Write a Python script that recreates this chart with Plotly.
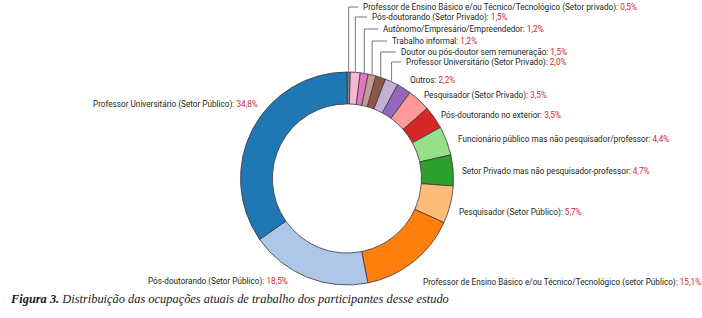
import math
import plotly.graph_objects as go

# ---------------- data (clockwise from 12 o'clock, as drawn) ----------------
categories = [
    "Professor de Ensino Básico e/ou Técnico/Tecnológico (Setor privado)",
    "Pós-doutorando (Setor Privado)",
    "Autônomo/Empresário/Empreendedor",
    "Trabalho informal",
    "Doutor ou pós-doutor sem remuneração",
    "Professor Universitário (Setor Privado)",
    "Outros",
    "Pesquisador (Setor Privado)",
    "Pós-doutorando no exterior",
    "Funcionário público mas não pesquisador/professor",
    "Setor Privado mas não pesquisador-professor",
    "Pesquisador (Setor Público)",
    "Professor de Ensino Básico e/ou Técnico/Tecnológico (setor Público)",
    "Pós-doutorando (Setor Público)",
    "Professor Universitário (Setor Público)",
]
values = [0.5, 1.5, 1.2, 1.2, 1.5, 2.0, 2.2, 3.5, 3.5, 4.4, 4.7, 5.7, 15.1, 18.5, 34.8]
colors = ["#7f7f7f", "#f7b6d2", "#e377c2", "#c49c94", "#8c564b", "#c5b0d5",
          "#9467bd", "#ff9896", "#d62728", "#98df8a", "#2ca02c", "#ffbb78",
          "#ff7f0e", "#aec7e8", "#1f77b4"]
caption_bold = "Figura 3."
caption_text = "Distribuição das ocupações atuais de trabalho dos participantes desse estudo"

# ---------------- layout (pixel positions of label text) ----------------
W, H = 702, 318
CX, CY, R = 347.0, 178.5, 106.5
HOLE = 0.70
label_x = [361, 370, 381, 390, 399, 404, 408, 422, 439, 456, 460, 457, 421, 290, 260]
label_y = [7, 17, 29, 41, 52, 62, 80, 95, 115, 139, 171, 212, 282, 281, 104]
label_side = ["left"] * 13 + ["right", "right"]
has_leader = [True] * 6 + [False] * 9

TXT = "#231f20"
PCT = "#d9262c"
FONT = "Roboto, sans-serif"

fig = go.Figure()
fig.add_trace(go.Pie(
    labels=categories, values=values, sort=False, direction="clockwise",
    rotation=0, hole=HOLE, textinfo="none", hoverinfo="label+percent",
    marker=dict(colors=colors, line=dict(color="#3a3a3a", width=0.8)),
    showlegend=False,
    domain=dict(x=[(CX - R) / W, (CX + R) / W], y=[1 - (CY + R) / H, 1 - (CY - R) / H]),
))

total = sum(values)
cum = 0.0
annotations = []
shapes = []
for i, (cat, v) in enumerate(zip(categories, values)):
    mid = cum + v / 2
    cum += v
    ang = math.radians(mid / total * 360)  # clockwise angle from top
    px = CX + R * math.sin(ang)
    py = CY - R * math.cos(ang)
    pct = f"{v:.1f}".replace(".", ",") + "%"
    annotations.append(dict(
        x=label_x[i], y=label_y[i], xref="x", yref="y",
        xanchor=label_side[i], yanchor="middle", showarrow=False,
        text=f"{cat}: <span style='color:{PCT}'>{pct}</span>",
        font=dict(family=FONT, size=8.2, color=TXT),
    ))
    if has_leader[i]:
        shapes.append(dict(
            type="path", xref="x", yref="y",
            path=f"M{px:.2f},{py - 0.5:.2f} L{px:.2f},{label_y[i]} L{label_x[i] - 3},{label_y[i]}",
            line=dict(color="#555555", width=0.8),
        ))

annotations.append(dict(
    x=8, y=299, xref="x", yref="y", xanchor="left", yanchor="middle", showarrow=False,
    text=f"<i><b>{caption_bold}</b> {caption_text}</i>",
    font=dict(family="Liberation Serif, serif", size=12.4, color="#1a1a1a"),
))

fig.update_layout(
    width=W, height=H, margin=dict(l=0, r=0, t=0, b=0),
    paper_bgcolor="white", plot_bgcolor="rgba(0,0,0,0)",
    xaxis=dict(range=[0, W], visible=False, fixedrange=True),
    yaxis=dict(range=[H, 0], visible=False, fixedrange=True),
    annotations=annotations, shapes=shapes,
)
fig.write_html(
    "out.html",
    config={"displayModeBar": False},
    post_script="document.body.style.margin='0';document.body.style.overflow='hidden';",
)
